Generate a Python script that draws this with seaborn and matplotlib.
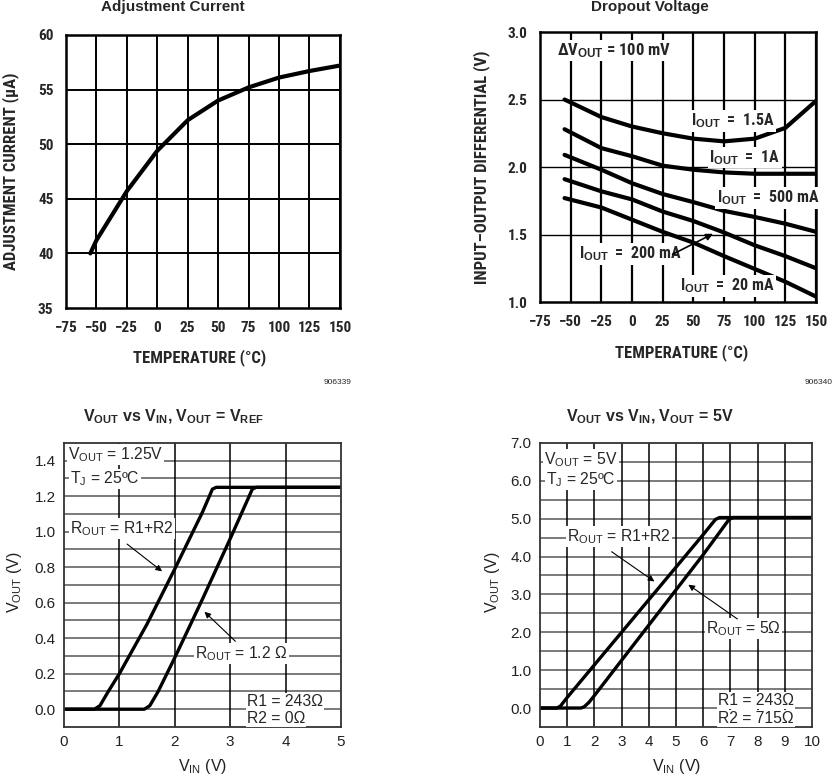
import os
import numpy as np
import pandas as pd
import matplotlib
matplotlib.use("Agg")
import matplotlib.pyplot as plt
import seaborn as sns
from matplotlib import font_manager
from matplotlib.font_manager import FontProperties

# ---------------- data ----------------
adj_temp = [-55, -50, -25, 0, 25, 50, 75, 100, 125, 150]
adj_current = [40.0, 41.2, 45.7, 49.4, 52.2, 54.0, 55.2, 56.1, 56.7, 57.2]

drop_temp = [-55, -25, 0, 25, 50, 75, 100, 125, 150]
drop_1500mA = [2.50, 2.37, 2.30, 2.25, 2.21, 2.19, 2.21, 2.29, 2.49]
drop_1000mA = [2.28, 2.14, 2.08, 2.01, 1.98, 1.96, 1.95, 1.95, 1.95]
drop_500mA = [2.09, 1.98, 1.88, 1.80, 1.74, 1.675, 1.63, 1.58, 1.52]
drop_200mA = [1.91, 1.82, 1.76, 1.67, 1.60, 1.515, 1.42, 1.34, 1.25]
drop_20mA = [1.77, 1.70, 1.61, 1.52, 1.44, 1.34, 1.245, 1.15, 1.04]

vref_vin_r1r2 = [0, 0.55, 0.65, 0.8, 1.0, 1.5, 2.0, 2.5, 2.68, 2.75, 5]
vref_vout_r1r2 = [0, 0, 0.02, 0.1, 0.2, 0.48, 0.79, 1.11, 1.24, 1.25, 1.25]
vref_vin_1r2 = [0, 1.45, 1.55, 1.7, 2.0, 2.5, 3.0, 3.4, 3.47, 5]
vref_vout_1r2 = [0, 0, 0.02, 0.1, 0.29, 0.62, 0.96, 1.24, 1.25, 1.25]

v5_vin_r1r2 = [0, 0.62, 0.75, 1.0, 2.0, 3.0, 4.0, 5.0, 6.0, 6.45, 6.6, 10]
v5_vout_r1r2 = [0, 0, 0.05, 0.28, 1.14, 2.0, 2.86, 3.72, 4.58, 4.98, 5.03, 5.03]
v5_vin_5ohm = [0, 1.5, 1.62, 1.8, 2.0, 3.0, 4.0, 5.0, 6.0, 6.95, 7.1, 10]
v5_vout_5ohm = [0, 0, 0.03, 0.15, 0.33, 1.26, 2.19, 3.12, 4.05, 4.98, 5.03, 5.03]

temp_ticks = [-75, -50, -25, 0, 25, 50, 75, 100, 125, 150]

# ---------------- style ----------------
sns.set_theme(style="white")
plt.rcParams["font.family"] = ["Liberation Sans", "DejaVu Sans"]
plt.rcParams["mathtext.fontset"] = "custom"
plt.rcParams["mathtext.rm"] = "Liberation Sans"
plt.rcParams["mathtext.it"] = "Liberation Sans"
plt.rcParams["mathtext.bf"] = "Liberation Sans:bold"
plt.rcParams["axes.unicode_minus"] = True


def find_condensed_bold():
    files = [f.fname for f in font_manager.fontManager.ttflist]
    prefs = ["liberationsansnarrow-bold.", "robotocondensed-bold.", "dejavusanscondensed-bold.",
             "opensanscondensed-bold.", "opensans_condensed-bold.", "notosans-condensedbold.",
             "notosanscondensed-bold."]
    for p in prefs:
        for fn in files:
            if os.path.basename(fn).lower().replace(" ", "").startswith(p):
                return fn
    for fn in files:
        b = os.path.basename(fn).lower()
        if ("condensed" in b or "narrow" in b) and "bold" in b and "italic" not in b \
                and "oblique" not in b and "semibold" not in b and "extrabold" not in b:
            return fn
    return None


COND = find_condensed_bold()


def nb(size):
    if COND:
        return FontProperties(fname=COND, size=size)
    return FontProperties(family=["Liberation Sans", "DejaVu Sans"], weight="bold", size=size * 0.9)


W, H = 834, 777
fig = plt.figure(figsize=(8.34, 7.77), dpi=100)


def px(x, y):
    return x / W, 1 - y / H


ax1 = fig.add_axes([0.0791, 0.6036, 0.3285, 0.3514])
ax2 = fig.add_axes([0.6475, 0.6113, 0.3310, 0.3475])
ax3 = fig.add_axes([0.0767, 0.0644, 0.3321, 0.3655])
ax4 = fig.add_axes([0.6475, 0.0644, 0.3261, 0.3655])


def style_top(ax):
    for s in ax.spines.values():
        s.set_color("black")
        s.set_linewidth(1.8)
    ax.tick_params(length=0, pad=9)
    for lab in ax.get_xticklabels() + ax.get_yticklabels():
        lab.set_fontproperties(nb(11))


def style_bottom(ax):
    for s in ax.spines.values():
        s.set_color("#333333")
        s.set_linewidth(1.3)
    ax.tick_params(length=0, pad=6, labelsize=11, colors="#222222")


# ---------- Adjustment Current ----------
df1 = pd.DataFrame({"T": adj_temp, "I": adj_current})
sns.lineplot(data=df1, x="T", y="I", ax=ax1, color="black", lw=3.0)
ax1.set_xlim(-75, 150)
ax1.set_ylim(35, 60)
ax1.set_xticks(temp_ticks)
ax1.set_yticks([35, 40, 45, 50, 55, 60])
for v in temp_ticks[1:]:
    ax1.axvline(v, color="black", lw=1.4, zorder=0)
for v in [40, 45, 50, 55]:
    ax1.axhline(v, color="black", lw=1.4, zorder=0)
style_top(ax1)
ax1.set_xlabel("")
ax1.set_ylabel("")
fig.text(*px(200, 358), "TEMPERATURE (°C)", fontproperties=nb(12), ha="center", va="center")
fig.text(*px(11, 171), "ADJUSTMENT CURRENT (μA)", fontproperties=nb(12), ha="center",
         va="center", rotation=90)
fig.text(*px(173, 7), "Adjustment Current", fontsize=11, fontweight="bold",
         ha="center", va="center")
fig.text(*px(351, 383), "906339", fontsize=6, ha="right", va="center")

# ---------- Dropout Voltage ----------
df2 = pd.DataFrame({
    "T": drop_temp * 5,
    "V": drop_1500mA + drop_1000mA + drop_500mA + drop_200mA + drop_20mA,
    "I": sum([[k] * len(drop_temp) for k in ["1.5A", "1A", "500mA", "200mA", "20mA"]], []),
})
sns.lineplot(data=df2, x="T", y="V", units="I", estimator=None, ax=ax2,
             color="black", lw=3.0)
ax2.set_xlim(-75, 150)
ax2.set_ylim(1.0, 3.0)
ax2.set_xticks(temp_ticks)
ax2.set_yticks([1.0, 1.5, 2.0, 2.5, 3.0])
ax2.set_yticklabels(["1.0", "1.5", "2.0", "2.5", "3.0"])
for v in temp_ticks[1:]:
    ax2.axvline(v, color="black", lw=1.6, zorder=0)
for v in [1.5, 2.0, 2.5]:
    ax2.axhline(v, color="black", lw=1.0, zorder=0)
style_top(ax2)
ax2.set_xlabel("")
ax2.set_ylabel("")
fig.text(*px(682, 353), "TEMPERATURE (°C)", fontproperties=nb(12), ha="center", va="center")
fig.text(*px(482, 167), "INPUT–OUTPUT DIFFERENTIAL (V)", fontproperties=nb(12),
         ha="center", va="center", rotation=90)
fig.text(*px(650, 7), "Dropout Voltage", fontsize=11, fontweight="bold",
         ha="center", va="center")
bb = dict(facecolor="white", edgecolor="none", pad=1.0)
ax2.text(-61, 2.865, r"ΔV$_{\mathbf{OUT}}$ = 100 mV", fontproperties=nb(12), va="center", bbox=bb)
ax2.text(48, 2.34, r"I$_{\mathbf{OUT}}$  =  1.5A", fontproperties=nb(11.5), va="center", bbox=bb)
ax2.text(63, 2.07, r"I$_{\mathbf{OUT}}$  =  1A", fontproperties=nb(11.5), va="center", bbox=bb)
ax2.text(69, 1.77, r"I$_{\mathbf{OUT}}$  =  500 mA", fontproperties=nb(11.5), va="center", bbox=bb)
ax2.text(-43, 1.355, r"I$_{\mathbf{OUT}}$  =  200 mA", fontproperties=nb(11.5), va="center", bbox=bb)
ax2.text(39, 1.12, r"I$_{\mathbf{OUT}}$  =  20 mA", fontproperties=nb(11.5), va="center", bbox=bb)
ax2.annotate("", xy=(68, 1.515), xytext=(31, 1.344),
             arrowprops=dict(arrowstyle="-|>", color="black", lw=1.2, mutation_scale=10))
fig.text(*px(833, 383), "906340", fontsize=6, ha="right", va="center")

# ---------- VOUT vs VIN, VOUT = VREF ----------
df3 = pd.DataFrame({
    "VIN": vref_vin_r1r2 + vref_vin_1r2,
    "VOUT": vref_vout_r1r2 + vref_vout_1r2,
    "R": ["a"] * len(vref_vin_r1r2) + ["b"] * len(vref_vin_1r2),
})
sns.lineplot(data=df3, x="VIN", y="VOUT", units="R", estimator=None, sort=False,
             ax=ax3, color="black", lw=2.4)
ax3.set_xlim(0, 5)
ax3.set_ylim(-0.1, 1.5)
ax3.set_xticks([0, 1, 2, 3, 4, 5])
ax3.set_yticks([0.0, 0.2, 0.4, 0.6, 0.8, 1.0, 1.2, 1.4])
ax3.set_yticklabels(["0.0", "0.2", "0.4", "0.6", "0.8", "1.0", "1.2", "1.4"])
for v in np.arange(0.0, 1.45, 0.1):
    ax3.axhline(v, color="#7a7a7a", lw=1.4, zorder=0)
for v in [1, 2, 3, 4]:
    ax3.axvline(v, color="black", lw=1.1, zorder=0.5)
style_bottom(ax3)
ax3.set_xlabel("")
ax3.set_ylabel("")
fig.text(*px(203, 767), r"V$_{\mathrm{IN}}$ (V)", fontsize=11.5, ha="center", va="center", color="#222222")
fig.text(*px(14, 582), r"V$_{\mathrm{OUT}}$ (V)", fontsize=11.5, ha="center", va="center",
         rotation=90, color="#222222")
fig.text(*px(173, 417),
         r"V$_{\mathbf{OUT}}$ vs V$_{\mathbf{IN}}$, V$_{\mathbf{OUT}}$ = V$_{\mathbf{REF}}$",
         fontsize=11.5, fontweight="bold", ha="center", va="center")
bb2 = dict(facecolor="white", edgecolor="none", pad=0.8)
FS = 11.3
ax3.text(0.07, 1.434, r"V$_{\mathrm{OUT}}$ = 1.25V", fontsize=FS, va="center", bbox=bb2)
ax3.text(0.11, 1.297, r"T$_{\mathrm{J}}$ = 25ºC", fontsize=FS, va="center", bbox=bb2)
ax3.text(0.11, 1.02, r"R$_{\mathrm{OUT}}$ = R1+R2", fontsize=FS, va="center", bbox=bb2)
ax3.text(2.37, 0.312, r"R$_{\mathrm{OUT}}$ = 1.2 Ω", fontsize=FS, va="center", bbox=bb2)
ax3.text(3.30, 0.043, "R1 = 243Ω", fontsize=FS, va="center", bbox=bb2)
ax3.text(3.30, -0.05, "R2 = 0Ω", fontsize=FS, va="center", bbox=bb2)
ax3.annotate("", xy=(1.81, 0.767), xytext=(1.10, 0.94),
             arrowprops=dict(arrowstyle="-|>", color="black", lw=0.8, mutation_scale=9))
ax3.annotate("", xy=(2.5, 0.56), xytext=(3.13, 0.372),
             arrowprops=dict(arrowstyle="-|>", color="black", lw=0.8, mutation_scale=9))

# ---------- VOUT vs VIN, VOUT = 5V ----------
df4 = pd.DataFrame({
    "VIN": v5_vin_r1r2 + v5_vin_5ohm,
    "VOUT": v5_vout_r1r2 + v5_vout_5ohm,
    "R": ["a"] * len(v5_vin_r1r2) + ["b"] * len(v5_vin_5ohm),
})
sns.lineplot(data=df4, x="VIN", y="VOUT", units="R", estimator=None, sort=False,
             ax=ax4, color="black", lw=2.4)
ax4.set_xlim(0, 10)
ax4.set_ylim(-0.5, 7.0)
ax4.set_xticks(list(range(11)))
ax4.set_yticks([0, 1, 2, 3, 4, 5, 6, 7])
ax4.set_yticklabels(["0.0", "1.0", "2.0", "3.0", "4.0", "5.0", "6.0", "7.0"])
for v in np.arange(0.0, 6.9, 0.5):
    ax4.axhline(v, color="#7a7a7a", lw=1.4, zorder=0)
for v in range(1, 10):
    ax4.axvline(v, color="black", lw=1.1, zorder=0.5)
style_bottom(ax4)
ax4.set_xlabel("")
ax4.set_ylabel("")
fig.text(*px(677, 767), r"V$_{\mathrm{IN}}$ (V)", fontsize=11.5, ha="center", va="center", color="#222222")
fig.text(*px(492, 582), r"V$_{\mathrm{OUT}}$ (V)", fontsize=11.5, ha="center", va="center",
         rotation=90, color="#222222")
fig.text(*px(650, 417), r"V$_{\mathbf{OUT}}$ vs V$_{\mathbf{IN}}$, V$_{\mathbf{OUT}}$ = 5V",
         fontsize=11.5, fontweight="bold", ha="center", va="center")
ax4.text(0.16, 6.56, r"V$_{\mathrm{OUT}}$ = 5V", fontsize=FS, va="center", bbox=bb2)
ax4.text(0.22, 6.04, r"T$_{\mathrm{J}}$ = 25ºC", fontsize=FS, va="center", bbox=bb2)
ax4.text(0.98, 4.52, r"R$_{\mathrm{OUT}}$ = R1+R2", fontsize=FS, va="center", bbox=bb2)
ax4.text(6.09, 2.09, r"R$_{\mathrm{OUT}}$ = 5Ω", fontsize=FS, va="center", bbox=bb2)
ax4.text(6.56, 0.19, "R1 = 243Ω", fontsize=FS, va="center", bbox=bb2)
ax4.text(6.56, -0.28, "R2 = 715Ω", fontsize=FS, va="center", bbox=bb2)
ax4.annotate("", xy=(4.29, 3.30), xytext=(2.55, 4.17),
             arrowprops=dict(arrowstyle="-|>", color="black", lw=0.8, mutation_scale=9))
ax4.annotate("", xy=(5.37, 3.30), xytext=(7.34, 2.31),
             arrowprops=dict(arrowstyle="-|>", color="black", lw=0.8, mutation_scale=9))

for ax in (ax1, ax2, ax3, ax4):
    ax.set_facecolor("white")
    ax.grid(False)

fig.savefig("out.png", dpi=100, facecolor="white")
